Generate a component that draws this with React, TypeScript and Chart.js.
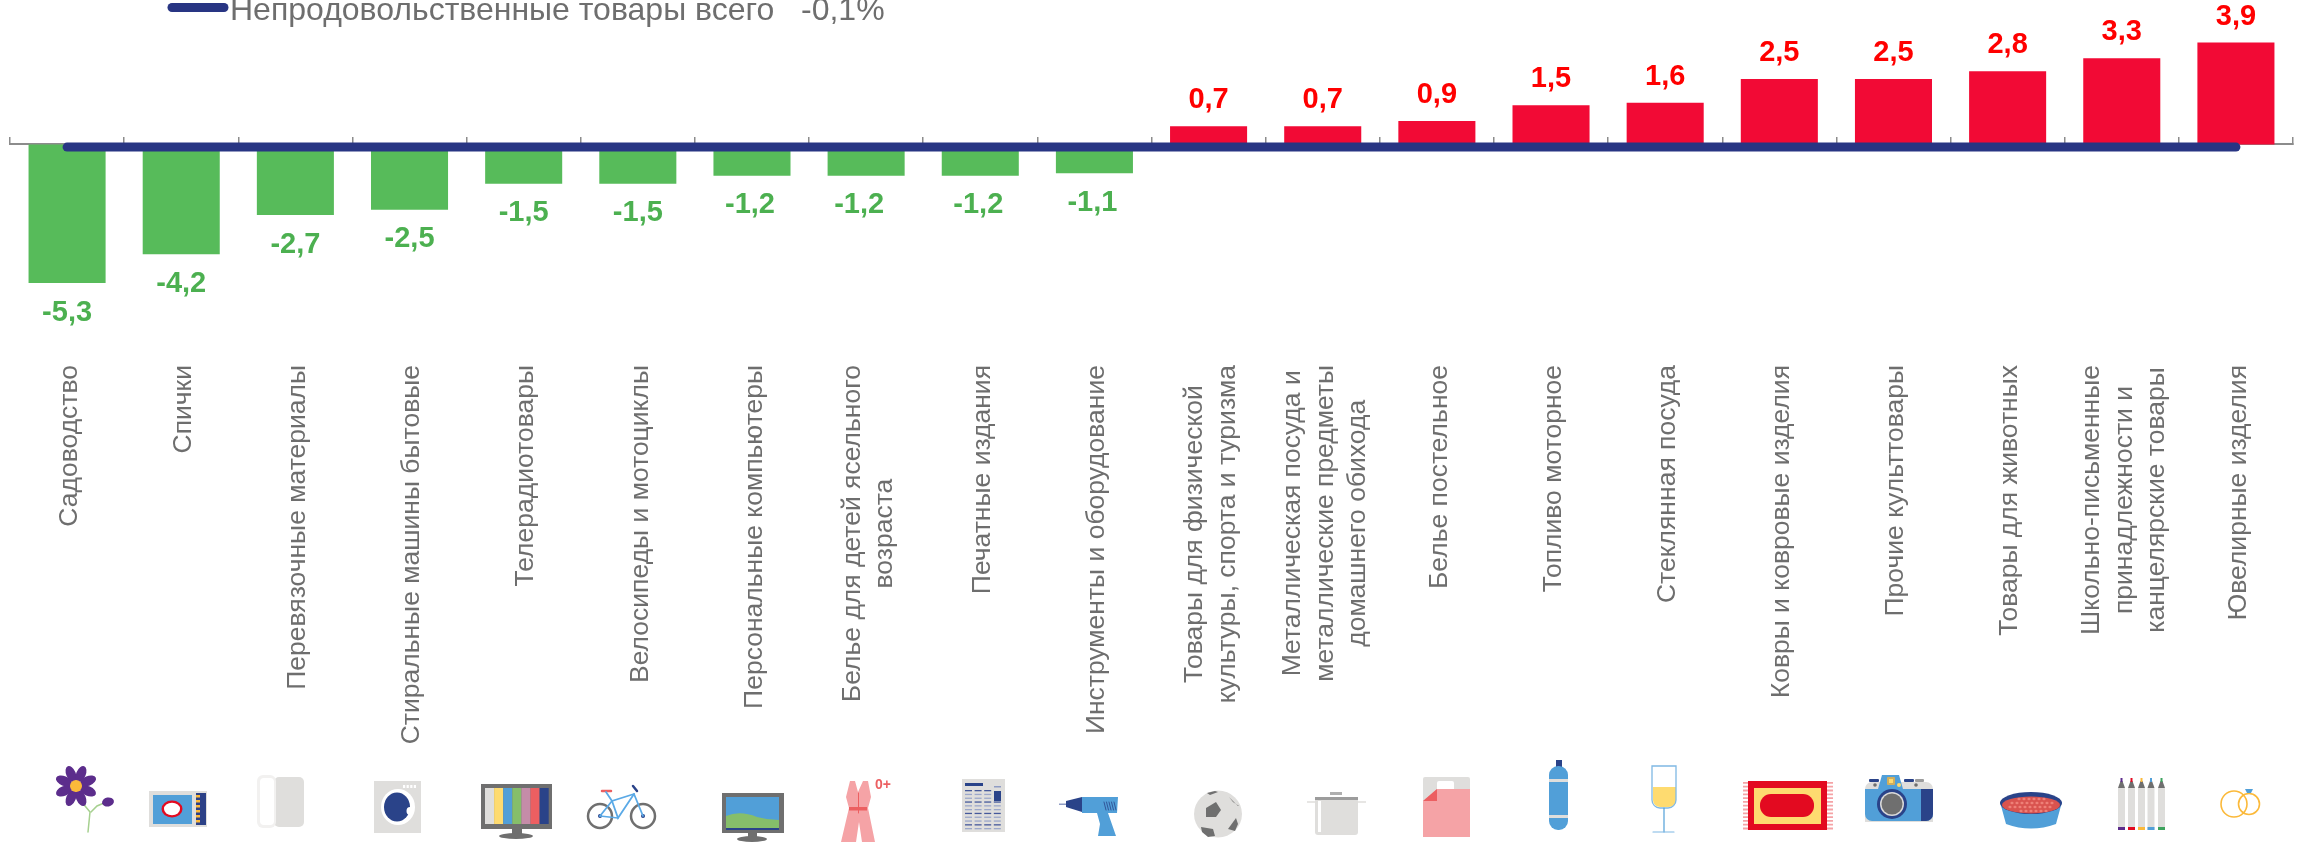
import React, { useEffect, useRef } from "react";
import { Chart, registerables } from "chart.js";

Chart.register(...registerables);

const categories: string[][] = [
  ["Садоводство"],
  ["Спички"],
  ["Перевязочные материалы"],
  ["Стиральные машины бытовые"],
  ["Телерадиотовары"],
  ["Велосипеды и мотоциклы"],
  ["Персональные компьютеры"],
  ["Белье для детей ясельного", "возраста"],
  ["Печатные издания"],
  ["Инструменты и оборудование"],
  ["Товары для физической", "культуры, спорта и туризма"],
  ["Металлическая посуда и", "металлические предметы", "домашнего обихода"],
  ["Белье постельное"],
  ["Топливо моторное"],
  ["Стеклянная посуда"],
  ["Ковры и ковровые изделия"],
  ["Прочие культтовары"],
  ["Товары для животных"],
  ["Школьно-письменные", "принадлежности и", "канцелярские товары"],
  ["Ювелирные изделия"],
];
const changes = [-5.3, -4.2, -2.7, -2.5, -1.5, -1.5, -1.2, -1.2, -1.2, -1.1, 0.7, 0.7, 0.9, 1.5, 1.6, 2.5, 2.5, 2.8, 3.3, 3.9];
const totalLine = [-0.1, -0.1, -0.1, -0.1, -0.1, -0.1, -0.1, -0.1, -0.1, -0.1, -0.1, -0.1, -0.1, -0.1, -0.1, -0.1, -0.1, -0.1, -0.1, -0.1];
const legendName = "Непродовольственные товары всего";
const legendValue = "-0,1%";

const GREEN = "#57BB5A";
const GREEN_TEXT = "#4CB050";
const RED = "#F20A35";
const RED_TEXT = "#FF0000";
const NAVY = "#283583";
const GREY_TEXT = "#6E6E6E";
const FONT = '"Liberation Sans", Arial, sans-serif';

const BLUE = "#519FD8";
const LG = "#DFDEDC";
const DG = "#6F6F6F";
const PINK = "#F5A3A6";
const CORAL = "#EC5F61";
const YEL = "#FEDB70";
const GOLD = "#FBB93A";

type C = CanvasRenderingContext2D;
function box(c: C, x: number, y: number, w: number, h: number, col: string, r: any = 0) {
  c.fillStyle = col;
  c.beginPath();
  c.roundRect(x, y, w, h, r);
  c.fill();
}
function oval(c: C, x: number, y: number, rx: number, ry: number, col: string, rot = 0) {
  c.fillStyle = col;
  c.beginPath();
  c.ellipse(x, y, rx, ry, rot, 0, Math.PI * 2);
  c.fill();
}
function stroke(c: C, pts: number[], col: string, w: number) {
  c.strokeStyle = col;
  c.lineWidth = w;
  c.lineCap = "round";
  c.beginPath();
  c.moveTo(pts[0], pts[1]);
  for (let i = 2; i < pts.length; i += 2) c.lineTo(pts[i], pts[i + 1]);
  c.stroke();
}
function poly(c: C, pts: number[], col: string) {
  c.fillStyle = col;
  c.beginPath();
  c.moveTo(pts[0], pts[1]);
  for (let i = 2; i < pts.length; i += 2) c.lineTo(pts[i], pts[i + 1]);
  c.closePath();
  c.fill();
}

function drawIcons(c: C) {
  // flower
  stroke(c, [76, 795, 90, 812, 88, 832], "#A6D08F", 1.5);
  stroke(c, [91, 812, 97, 806, 104, 803], "#A6D08F", 1.5);
  for (let i = 0; i < 8; i++) {
    const a = ((i + 0.5) * Math.PI) / 4;
    oval(c, 76 + Math.cos(a) * 13, 786 + Math.sin(a) * 13, 8.5, 4.8, "#5C2D8C", a);
  }
  oval(c, 76, 786, 6, 6, GOLD);
  oval(c, 108, 802, 6, 4.5, "#5C2D8C", -0.2);
  // matches
  box(c, 149, 791, 58, 36, LG);
  box(c, 153, 795, 39, 29, BLUE);
  oval(c, 172, 809, 10.5, 8.5, "#E30A20");
  oval(c, 172, 809, 8, 6.2, "#FFFFFF");
  box(c, 196, 793, 10, 32, "#2C4187");
  for (let i = 0; i < 6; i++) box(c, 196, 795 + i * 5, 4, 2.5, GOLD);
  // bandage
  box(c, 274, 777, 30, 50, LG, 5);
  box(c, 257, 775, 19, 53, "#F2F1F0", 6);
  box(c, 260, 778, 14, 47, "#FFFFFF", 4);
  // washing machine
  box(c, 374, 781, 47, 52, LG);
  oval(c, 398, 807, 17, 18, "#FFFFFF");
  oval(c, 397, 807, 13, 14.5, "#2A4389");
  oval(c, 410, 811, 3.5, 4, "#FFFFFF");
  for (let i = 0; i < 4; i++) box(c, 403 + i * 3.6, 785, 2.2, 3, "#FFFFFF");
  // TV
  box(c, 481, 784, 71, 45, DG);
  ["#DFDEDC", "#FEDB70", "#519FD8", "#86BE6A", "#C58CA8", "#EC5F61", "#2A4389"].forEach((col, i) =>
    box(c, 485 + i * 9.1, 788, 9.1, 36, col)
  );
  box(c, 512, 829, 10, 6, DG);
  oval(c, 516, 836, 17, 3, DG);
  // bicycle
  [600, 643].forEach((x) => {
    c.strokeStyle = DG;
    c.lineWidth = 2.5;
    c.beginPath();
    c.arc(x, 816, 12, 0, Math.PI * 2);
    c.stroke();
    oval(c, x, 816, 2, 2, "#2A4389");
  });
  stroke(c, [600, 816, 612, 801, 634, 794, 643, 816], "#5AA9E6", 1.8);
  stroke(c, [612, 801, 618, 818, 634, 794], "#5AA9E6", 1.8);
  stroke(c, [600, 816, 618, 818], "#5AA9E6", 1.4);
  stroke(c, [602, 791, 611, 791], CORAL, 2.5);
  stroke(c, [606, 792, 612, 801], "#5AA9E6", 1.8);
  stroke(c, [633, 786, 637, 791], "#2A4389", 2.5);
  // monitor
  box(c, 722, 793, 62, 40, DG);
  box(c, 726, 797, 53, 31, BLUE);
  c.fillStyle = "#86BE6A";
  c.beginPath();
  c.moveTo(726, 816);
  c.quadraticCurveTo(740, 810, 757, 817);
  c.quadraticCurveTo(768, 820, 779, 820);
  c.lineTo(779, 828);
  c.lineTo(726, 828);
  c.closePath();
  c.fill();
  box(c, 726, 828, 53, 2, "#2A4389");
  box(c, 748, 833, 9, 5, DG);
  oval(c, 752, 839, 15, 3, DG);
  // baby overalls
  poly(c, [850, 781, 855, 781, 858, 792, 863, 781, 868, 781, 871, 797, 868, 808, 875, 842, 862, 842, 859, 822, 856, 842, 841, 842, 849, 808, 846, 797], PINK);
  box(c, 849, 807, 18, 3.5, CORAL);
  stroke(c, [858.5, 793, 858.5, 813], CORAL, 1);
  c.fillStyle = CORAL;
  c.font = `bold 14px ${FONT}`;
  c.textAlign = "left";
  c.textBaseline = "middle";
  c.fillText("0+", 875, 785);
  // newspaper
  box(c, 962, 779, 43, 53, LG);
  box(c, 965, 783, 18, 3, "#2A4389");
  box(c, 994, 786, 7, 1.5, "#8F9CC4");
  box(c, 994, 791, 7, 10, "#2A4389");
  for (let r = 0; r < 11; r++)
    for (let k = 0; k < 4; k++) {
      if (k === 3 && r < 3) continue;
      box(c, 965 + k * 9.6, 790 + r * 3.8, 7, 1.3, r % 3 === 0 ? "#45599B" : "#9BA7CA");
    }
  // drill
  box(c, 1059, 803.5, 7, 1.5, "#8F9CC4");
  poly(c, [1066, 801, 1082, 797, 1082, 812, 1066, 807], "#2A4389");
  poly(c, [1082, 797, 1118, 797, 1117, 813, 1108, 813, 1116, 836, 1098, 836, 1100, 824, 1097, 813, 1082, 813], BLUE);
  for (let i = 0; i < 5; i++) stroke(c, [1104 + i * 2.5, 802, 1106 + i * 2.5, 810], "#2A4389", 0.8);
  // ball
  oval(c, 1218, 814, 24, 23.5, LG);
  poly(c, [1206, 808, 1216, 802, 1221, 810, 1216, 817, 1206, 817], DG);
  poly(c, [1229, 797, 1238, 806, 1239, 806, 1233, 802], DG);
  poly(c, [1228, 829, 1236, 818, 1238, 824, 1235, 831], DG);
  poly(c, [1201, 827, 1213, 829, 1215, 836, 1208, 837, 1202, 832], DG);
  poly(c, [1207, 793, 1215, 791, 1218, 792, 1210, 795], DG);
  // pot
  box(c, 1307, 801, 59, 2, "#E7E6E4");
  box(c, 1315, 798, 43, 37, LG, 3);
  box(c, 1315, 797, 43, 3, "#9C9C9C");
  box(c, 1330, 792, 12, 3, "#AFAFAF");
  box(c, 1318, 801, 3, 31, "#FFFFFF");
  // linen
  box(c, 1423, 777, 47, 60, LG, 2);
  box(c, 1437, 781, 17, 12, "#FFFFFF", 2);
  poly(c, [1437, 789, 1470, 789, 1470, 837, 1423, 837, 1423, 801], PINK);
  poly(c, [1437, 789, 1437, 801, 1423, 801], CORAL);
  // cylinder
  box(c, 1556, 760, 6, 9, "#2A4389");
  box(c, 1549, 766, 19, 64, BLUE, 9);
  box(c, 1549, 779, 19, 3, LG);
  box(c, 1549, 815, 19, 3, LG);
  // glass
  c.strokeStyle = "#7FB8E4";
  c.lineWidth = 1.3;
  box(c, 1653, 787, 23, 20, YEL, [0, 0, 7, 7]);
  c.beginPath();
  c.roundRect(1652, 766, 24, 42, [0, 0, 8, 8]);
  c.stroke();
  stroke(c, [1664, 808, 1664, 832], BLUE, 1.2);
  stroke(c, [1653, 832, 1674, 832], "#7FB8E4", 1.2);
  // carpet
  for (let i = 0; i < 13; i++) {
    box(c, 1743, 782 + i * 3.8, 90, 1.8, "#F5A3A6");
  }
  box(c, 1748, 781, 79, 49, "#E30A20");
  box(c, 1754, 788, 67, 36, YEL);
  box(c, 1760, 794, 54, 23, "#E30A20", 11);
  // camera
  box(c, 1869, 779, 10, 3, "#2A4389", 1);
  box(c, 1904, 779, 10, 3, "#2A4389", 1);
  box(c, 1915, 779, 9, 3, "#9C9C9C", 1);
  box(c, 1865, 782, 68, 40, LG, [7, 7, 0, 0]);
  box(c, 1865, 789, 68, 32, BLUE, [0, 0, 7, 7]);
  box(c, 1921, 789, 12, 32, "#2A4389", [0, 0, 7, 0]);
  poly(c, [1882, 775, 1899, 775, 1903, 789, 1878, 789], BLUE);
  box(c, 1887, 777, 8, 8, "#D1AE5C", 1);
  box(c, 1889, 779, 4, 4, YEL);
  oval(c, 1899, 785, 2, 2, YEL);
  oval(c, 1875, 785, 1.8, 1.8, DG);
  oval(c, 1916, 785, 1.8, 1.8, DG);
  oval(c, 1892, 804, 15, 15, "#2A4389");
  oval(c, 1892, 804, 12, 12, "#D9D9D9");
  oval(c, 1892, 804, 10.5, 10.5, DG);
  // bowl
  c.fillStyle = BLUE;
  c.beginPath();
  c.moveTo(2000, 802);
  c.lineTo(2062, 802);
  c.lineTo(2056, 824);
  c.quadraticCurveTo(2031, 833, 2006, 824);
  c.closePath();
  c.fill();
  oval(c, 2031, 803, 31, 11, "#2A4389");
  oval(c, 2031, 805, 29, 8.5, "#D9534F");
  for (let r = 0; r < 4; r++)
    for (let k = 0; k < 9 - (r === 0 || r === 3 ? 3 : 0); k++) {
      const off = r === 0 || r === 3 ? 9 : 0;
      oval(c, 2010 + off + k * 5 + (r % 2) * 2, 799 + r * 4, 1.6, 1.2, "#EE8078");
    }
  // pens
  ["#5C2D8C", "#E30A20", GOLD, BLUE, "#3DA35D"].forEach((col, i) => {
    const x = [2121.5, 2131.5, 2141.5, 2151, 2161.5][i];
    box(c, x - 3.5, 788, 7, 42, LG);
    poly(c, [x - 3.5, 788, x + 3.5, 788, x + 1, 781, x - 1, 781], DG);
    box(c, x - 1, 778, 2, 4, col);
    box(c, x - 3.5, 827, 7, 3, col);
  });
  // rings
  c.strokeStyle = GOLD;
  c.lineWidth = 1.6;
  c.beginPath();
  c.ellipse(2234, 804, 13, 13, 0, 0, Math.PI * 2);
  c.stroke();
  c.beginPath();
  c.ellipse(2249, 804, 10.5, 10.5, 0, 0, Math.PI * 2);
  c.stroke();
  poly(c, [2245, 789, 2253, 789, 2251, 793, 2247, 793], BLUE);
}

const chartDecor = {
  id: "chartDecor",
  afterDraw(chart: any) {
    const c: C = chart.ctx;
    const x = chart.scales.x;
    const y = chart.scales.y;
    c.save();

    // value labels
    c.textAlign = "center";
    c.textBaseline = "middle";
    c.font = `bold 29px ${FONT}`;
    changes.forEach((v, i) => {
      c.fillStyle = v < 0 ? GREEN_TEXT : RED_TEXT;
      const py = y.getPixelForValue(v) + (v < 0 ? 29.5 : -26);
      const dx = i === 7 ? -7 : i > 5 && i < 10 ? -2 : 0;
      c.fillText(v.toFixed(1).replace(".", ","), x.getPixelForTick(i) + dx, py);
    });

    // category labels: rotated, top-aligned block, centred lines
    c.fillStyle = GREY_TEXT;
    c.font = `26.5px ${FONT}`;
    const lineH = 32.5;
    const TOP = 365;
    categories.forEach((lines, i) => {
      const widths = lines.map((l) => c.measureText(l).width);
      const maxW = Math.max(...widths);
      const cx = x.getPixelForTick(i) + 2.5;
      lines.forEach((l, k) => {
        c.save();
        c.translate(cx + (k - (lines.length - 1) / 2) * lineH, TOP + maxW / 2);
        c.rotate(-Math.PI / 2);
        c.textAlign = "center";
        c.textBaseline = "middle";
        c.fillText(l, 0, 0);
        c.restore();
      });
    });

    // legend, cropped by the top edge as in the picture
    c.strokeStyle = NAVY;
    c.lineWidth = 9;
    c.lineCap = "round";
    c.beginPath();
    c.moveTo(172, 7.5);
    c.lineTo(224, 7.5);
    c.stroke();
    c.fillStyle = GREY_TEXT;
    c.textAlign = "left";
    c.textBaseline = "alphabetic";
    c.font = `32px ${FONT}`;
    c.fillText(legendName, 230, 20);
    c.fillText(legendValue, 801, 20);

    drawIcons(c);
    c.restore();
  },
};

export default function App() {
  const ref = useRef<HTMLCanvasElement>(null);
  useEffect(() => {
    document.body.style.margin = "0";
    document.documentElement.style.overflow = "hidden";
    const chart = new Chart(ref.current as HTMLCanvasElement, {
      type: "bar",
      data: {
        labels: categories,
        datasets: [
          {
            type: "line",
            label: legendName,
            data: totalLine,
            borderColor: NAVY,
            borderWidth: 9,
            borderCapStyle: "round",
            pointRadius: 0,
            order: 0,
          },
          {
            type: "bar",
            label: "Изменение, %",
            data: changes,
            backgroundColor: changes.map((v) => (v < 0 ? GREEN : RED)),
            barPercentage: 0.675,
            categoryPercentage: 1,
            order: 1,
          },
        ],
      } as any,
      options: {
        responsive: false,
        animation: false,
        layout: { padding: { left: 10, right: 10, top: 19, bottom: 542 } },
        plugins: { legend: { display: false }, tooltip: { enabled: false } },
        scales: {
          x: {
            type: "category",
            position: { y: 0 },
            offset: true,
            grid: {
              offset: true,
              drawOnChartArea: false,
              drawTicks: true,
              tickLength: -8,
              color: "#8C8C8C",
              lineWidth: 1.5,
            },
            border: { display: true, color: "#8C8C8C", width: 2 },
            ticks: { display: false, autoSkip: false },
          },
          y: { display: false, min: -5.95, max: 4.8 },
        },
      } as any,
      plugins: [chartDecor],
    });
    return () => chart.destroy();
  }, []);
  return <canvas ref={ref} width={2303} height={842} style={{ display: "block" }} />;
}
